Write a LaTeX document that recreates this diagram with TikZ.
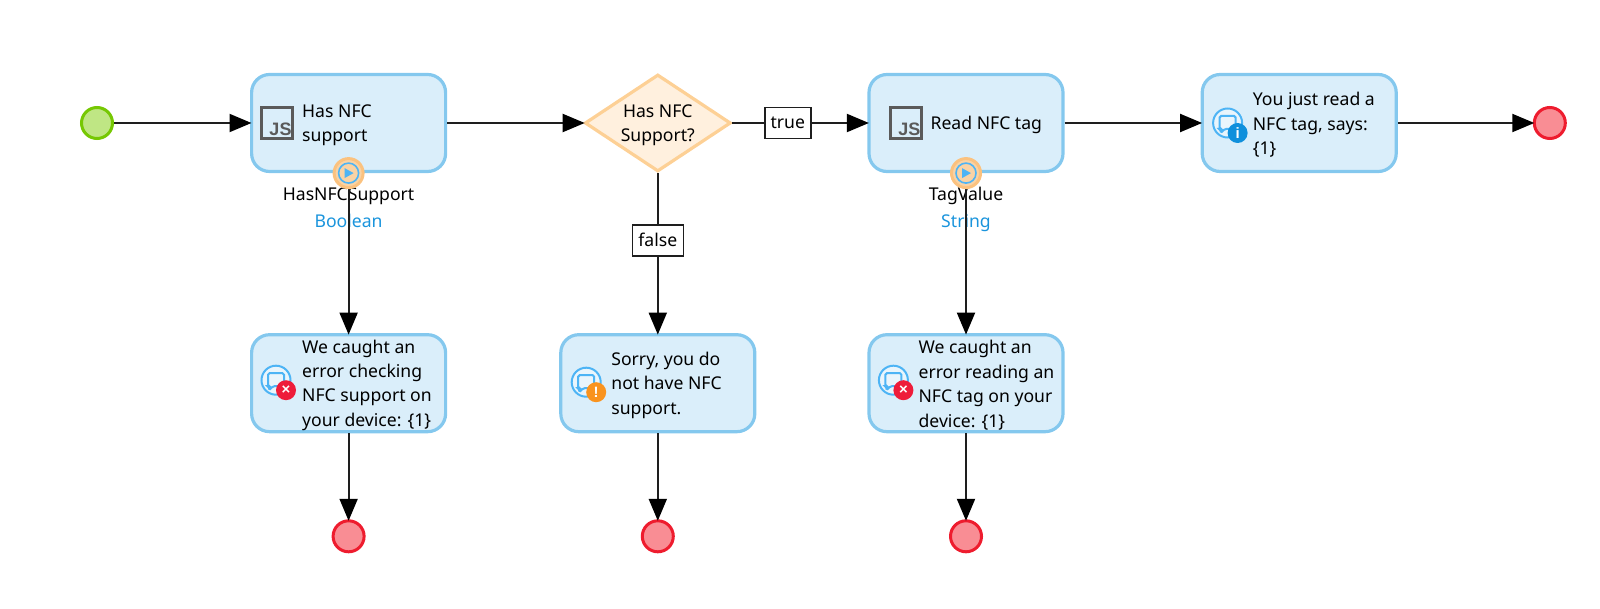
\documentclass[tikz,border=0pt]{standalone}
\usepackage{fontspec}
\setmainfont{Noto Sans}
\newfontfamily\iconfont{Liberation Sans}
\usetikzlibrary{arrows.meta,calc,positioning,shapes.geometric}

\definecolor{boxfill}{HTML}{DAEEFA}
\definecolor{boxline}{HTML}{84C8EE}
\definecolor{decfill}{HTML}{FFF0DE}
\definecolor{decline}{HTML}{FDD095}
\definecolor{startfill}{HTML}{BFE684}
\definecolor{startline}{HTML}{76C803}
\definecolor{endfill}{HTML}{F98D94}
\definecolor{endline}{HTML}{EE1C2E}
\definecolor{portfill}{HTML}{F9D3A5}
\definecolor{portline}{HTML}{FBC27F}
\definecolor{iconblue}{HTML}{4DB4F5}
\definecolor{typeblue}{HTML}{1A94DC}
\definecolor{iconred}{HTML}{EE1C3A}
\definecolor{iconorange}{HTML}{F9931E}
\definecolor{iconinfo}{HTML}{0F90DC}
\definecolor{jsgrey}{HTML}{5A5A5A}
\definecolor{flow}{HTML}{1E1E1E}

\tikzset{
  activity/.style={draw=boxline,fill=boxfill,line width=3.2pt,rounded corners=18pt,
    minimum width=194pt,minimum height=97pt,outer sep=1.6pt,inner sep=0pt},
  decision/.style={diamond,draw=decline,fill=decfill,line width=3.2pt,
    minimum width=146pt,minimum height=97pt,inner sep=0pt,outer sep=1.6pt},
  startev/.style={circle,draw=startline,fill=startfill,line width=3pt,
    minimum size=31pt,inner sep=0pt,outer sep=1.5pt},
  endev/.style={circle,draw=endline,fill=endfill,line width=3pt,
    minimum size=31pt,inner sep=0pt,outer sep=1.5pt},
  caption/.style={align=left,font=\fontsize{17.6}{24.4}\selectfont,inner sep=0pt,text=black,yshift=-2pt},
  flag/.style={draw=flow,fill=white,line width=1.6pt,inner sep=0pt,
    minimum height=31pt,font=\fontsize{17.6}{20}\selectfont,text=black},
  outname/.style={font=\fontsize{17.6}{20}\selectfont,inner sep=0pt,text=black,text height=12pt,text depth=4pt},
  outtype/.style={font=\fontsize{17.6}{20}\selectfont,inner sep=0pt,text=typeblue,text height=12pt,text depth=4pt},
  pics/jsicon/.style={code={
    \draw[jsgrey,line width=2.2pt] (-15.5,-15.5) rectangle (15.5,15.5);
    \node[jsgrey,inner sep=0pt,font=\fontsize{18}{18}\iconfont\bfseries] (-js) at (3.5,6) {JS};
  }},
  pics/msgicon/.style n args={2}{code={
    \draw[iconblue,line width=2pt,fill=white!40!boxfill] (0,0) circle (14.5);
    \draw[iconblue,line width=2pt,rounded corners=1.5pt,fill=white!40!boxfill]
      (-8,-7) -- (8,-7) -- (8,6) -- (-3,6) -- (-7,10) -- (-7,6) -- (-8,6) -- cycle;
    \node[circle,fill=#1,minimum size=20pt,inner sep=0pt,text=white,
      font=\fontsize{15}{15}\iconfont\bfseries] (-badge) at (10,10) {#2};
  }},
  pics/porticon/.style={code={
    \draw[iconblue,line width=1.6pt] (0,0) circle (10);
    \fill[iconblue] (-4,-5) -- (5,0) -- (-4,5) -- cycle;
  }}
}

\begin{document}
\begin{tikzpicture}[x=1pt,y=-1pt,>={Triangle[length=22pt,width=18pt,color=black]},shorten >=-1.5pt,node distance=136pt]
    \useasboundingbox (0,0) rectangle (1600,609);

    \node[startev] (start) at (97,123) {};
    \node[activity] (hasnfc) [right=of start] {};
    \node[decision] (dec) [right=of hasnfc] {};
    \node[activity] (readtag) [right=135pt of dec] {};
    \node[activity] (shownfc) [right=of readtag] {};
    \node[endev] (endtop) [right=135pt of shownfc] {};

    \node[activity] (errcheck) [below=160pt of hasnfc] {};
    \node[activity] (sorry) [below=160pt of dec] {};
    \node[activity] (errread) [below=160pt of readtag] {};

    \node[endev] (endcheck) [below=86pt of errcheck] {};
    \node[endev] (endsorry) [below=86pt of sorry] {};
    \node[endev] (endread) [below=86pt of errread] {};

    \node[caption] (hasnfctext) [right=52pt of hasnfc.west,anchor=west] {Has NFC\\support};
    \node[caption,align=center] (dectext) at (dec) {Has NFC\\Support?};
    \node[caption] (readtext) [right=63pt of readtag.west,anchor=west] {Read NFC tag};
    \node[caption] (showtext) [right=52pt of shownfc.west,anchor=west] {You just read a\\NFC tag, says:\\\{1\}};
    \node[caption] (errchecktext) [right=52pt of errcheck.west,anchor=west] {We caught an\\error checking\\NFC support on\\your device: \{1\}};
    \node[caption] (sorrytext) [right=52pt of sorry.west,anchor=west] {Sorry, you do\\not have NFC\\support.};
    \node[caption] (errreadtext) [right=51pt of errread.west,anchor=west] {We caught an\\error reading an\\NFC tag on your\\device: \{1\}};

    \node[outname] (hasnfcout) [below=15pt of hasnfc.south] {HasNFCSupport};
    \node[outtype] (hasnfctype) [below=11pt of hasnfcout] {Boolean};
    \node[outname] (readout) [below=15pt of readtag.south] {TagValue};
    \node[outtype] (readtype) [below=11pt of readout] {String};

    \draw[->,flow,line width=2pt] (start) -- (hasnfc);
    \draw[->,flow,line width=2pt] (hasnfc) -- (dec);
    \draw[->,flow,line width=2pt] (dec) -- node[flag,pos=0.41,minimum width=46pt] (trueflag) {true} (readtag);
    \draw[->,flow,line width=2pt] (readtag) -- (shownfc);
    \draw[->,flow,line width=2pt] (shownfc) -- (endtop);
    \draw[->,flow,line width=2pt] (hasnfc) -- (errcheck);
    \draw[->,flow,line width=2pt] (dec) -- node[flag,pos=0.42,minimum width=51pt] (falseflag) {false} (sorry);
    \draw[->,flow,line width=2pt] (readtag) -- (errread);
    \draw[->,flow,line width=2pt] (errcheck) -- (endcheck);
    \draw[->,flow,line width=2pt] (sorry) -- (endsorry);
    \draw[->,flow,line width=2pt] (errread) -- (endread);

    \node[circle,draw=portline,fill=portfill,line width=3pt,minimum size=29pt,inner sep=0pt] (hasnfcport) at (hasnfc.south) {};
    \node[circle,draw=portline,fill=portfill,line width=3pt,minimum size=29pt,inner sep=0pt] (readport) at (readtag.south) {};
    \pic at (hasnfcport) {porticon};
    \pic at (readport) {porticon};

    \pic (hasnfcjs) at ($(hasnfc.west)+(27,0)$) {jsicon};
    \pic (readjs) at ($(readtag.west)+(38.5,0)$) {jsicon};
    \pic (showmsg) at ($(shownfc.west)+(27,0)$) {msgicon={iconinfo}{i}};
    \pic (errcheckmsg) at ($(errcheck.west)+(26,-3)$) {msgicon={iconred}{×}};
    \pic (sorrymsg) at ($(sorry.west)+(27,-1)$) {msgicon={iconorange}{!}};
    \pic (errreadmsg) at ($(errread.west)+(26,-3)$) {msgicon={iconred}{×}};
\end{tikzpicture}
\end{document}
